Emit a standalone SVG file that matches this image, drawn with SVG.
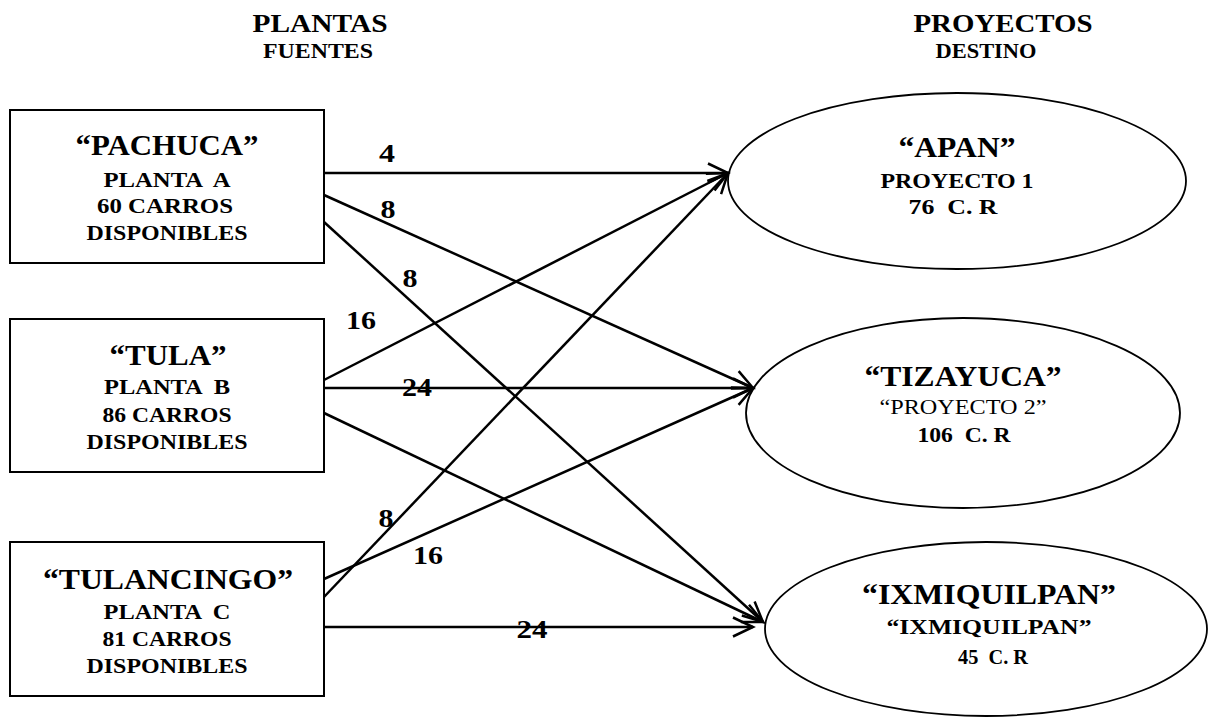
<svg xmlns="http://www.w3.org/2000/svg" width="1209" height="722" viewBox="0 0 1209 722">
<style>
text{font-family:"Liberation Serif","Times New Roman",serif;font-weight:bold;fill:#000;text-anchor:middle;white-space:pre}
.hd{font-size:26px}
.sh{font-size:22px}
.tt{font-size:30px}
.st{font-size:21px}
.nm{font-size:21px;font-weight:normal}
.lb{font-size:25px}
.box{fill:#fff;stroke:#000;stroke-width:2}
.ell{fill:#fff;stroke:#000;stroke-width:1.8}
.cn{stroke:#000;stroke-width:2.5;fill:none;marker-end:url(#arr)}
</style>
<defs>
<marker id="arr" markerUnits="userSpaceOnUse" markerWidth="24" markerHeight="24" refX="21" refY="11" orient="auto" viewBox="0 0 24 22">
<path d="M1,1.5 L21,11 L1,20.5" fill="none" stroke="#000" stroke-width="2.5"/>
</marker>
</defs>
<rect width="1209" height="722" fill="#fff"/>

<g id="headers">
<text class="hd" x="320" y="32" textLength="135" lengthAdjust="spacingAndGlyphs">PLANTAS</text>
<text class="sh" x="318" y="58" textLength="110" lengthAdjust="spacingAndGlyphs">FUENTES</text>
<text class="hd" x="1003" y="32" textLength="179" lengthAdjust="spacingAndGlyphs">PROYECTOS</text>
<text class="sh" x="986" y="58" textLength="101" lengthAdjust="spacingAndGlyphs">DESTINO</text>
</g>

<g id="node-apan">
<ellipse class="ell" cx="957" cy="181" rx="229" ry="88"/>
<text class="tt" x="957" y="157" textLength="117" lengthAdjust="spacingAndGlyphs">“APAN”</text>
<text class="st" x="957" y="188" textLength="153" lengthAdjust="spacingAndGlyphs">PROYECTO 1</text>
<text class="st" x="953" y="214" textLength="89" lengthAdjust="spacingAndGlyphs">76  C. R</text>
</g>

<g id="node-tizayuca">
<ellipse class="ell" cx="963" cy="413" rx="217" ry="95"/>
<text class="tt" x="963" y="386" textLength="197" lengthAdjust="spacingAndGlyphs">“TIZAYUCA”</text>
<text class="nm" x="963" y="414" textLength="167" lengthAdjust="spacingAndGlyphs">“PROYECTO 2”</text>
<text class="st" x="964" y="442" textLength="93" lengthAdjust="spacingAndGlyphs">106  C. R</text>
</g>

<g id="node-ixmiquilpan">
<ellipse class="ell" cx="986" cy="629" rx="221" ry="87"/>
<text class="tt" x="989" y="604" textLength="254" lengthAdjust="spacingAndGlyphs">“IXMIQUILPAN”</text>
<text class="st" x="989" y="634" textLength="205" lengthAdjust="spacingAndGlyphs">“IXMIQUILPAN”</text>
<text class="st" x="993" y="664" textLength="70" lengthAdjust="spacingAndGlyphs">45  C. R</text>
</g>

<g id="connectors">
<line class="cn" x1="324" y1="173" x2="728" y2="173"/>
<line class="cn" x1="324" y1="195" x2="753" y2="388"/>
<line class="cn" x1="324" y1="222" x2="763" y2="622"/>
<line class="cn" x1="324" y1="380" x2="728" y2="173"/>
<line class="cn" x1="324" y1="388" x2="753" y2="388"/>
<line class="cn" x1="324" y1="413" x2="763" y2="622"/>
<line class="cn" x1="324" y1="579" x2="753" y2="388"/>
<line class="cn" x1="324" y1="597" x2="728" y2="173"/>
<line class="cn" x1="324" y1="627" x2="753" y2="627"/>
</g>

<g id="node-pachuca">
<rect class="box" x="10" y="110" width="314" height="153"/>
<text class="tt" x="167" y="155" textLength="183" lengthAdjust="spacingAndGlyphs">“PACHUCA”</text>
<text class="st" x="167" y="187" textLength="127" lengthAdjust="spacingAndGlyphs">PLANTA  A</text>
<text class="st" x="165" y="213" textLength="136" lengthAdjust="spacingAndGlyphs">60 CARROS</text>
<text class="st" x="167" y="240" textLength="161" lengthAdjust="spacingAndGlyphs">DISPONIBLES</text>
</g>

<g id="node-tula">
<rect class="box" x="10" y="319" width="314" height="153"/>
<text class="tt" x="168" y="365" textLength="117" lengthAdjust="spacingAndGlyphs">“TULA”</text>
<text class="st" x="167" y="394" textLength="126" lengthAdjust="spacingAndGlyphs">PLANTA  B</text>
<text class="st" x="167" y="422" textLength="129" lengthAdjust="spacingAndGlyphs">86 CARROS</text>
<text class="st" x="167" y="449" textLength="161" lengthAdjust="spacingAndGlyphs">DISPONIBLES</text>
</g>

<g id="node-tulancingo">
<rect class="box" x="10" y="542" width="314" height="154"/>
<text class="tt" x="168" y="589" textLength="250" lengthAdjust="spacingAndGlyphs">“TULANCINGO”</text>
<text class="st" x="167" y="619" textLength="127" lengthAdjust="spacingAndGlyphs">PLANTA  C</text>
<text class="st" x="167" y="646" textLength="129" lengthAdjust="spacingAndGlyphs">81 CARROS</text>
<text class="st" x="167" y="673" textLength="161" lengthAdjust="spacingAndGlyphs">DISPONIBLES</text>
</g>

<g id="labels">
<text class="lb" x="387" y="162" textLength="16" lengthAdjust="spacingAndGlyphs">4</text>
<text class="lb" x="388" y="218" textLength="15" lengthAdjust="spacingAndGlyphs">8</text>
<text class="lb" x="410" y="287" textLength="15" lengthAdjust="spacingAndGlyphs">8</text>
<text class="lb" x="361" y="329" textLength="30" lengthAdjust="spacingAndGlyphs">16</text>
<text class="lb" x="417" y="396" textLength="30" lengthAdjust="spacingAndGlyphs">24</text>
<text class="lb" x="386" y="527" textLength="15" lengthAdjust="spacingAndGlyphs">8</text>
<text class="lb" x="428" y="564" textLength="30" lengthAdjust="spacingAndGlyphs">16</text>
<text class="lb" x="532" y="638" textLength="31" lengthAdjust="spacingAndGlyphs">24</text>
</g>
</svg>
